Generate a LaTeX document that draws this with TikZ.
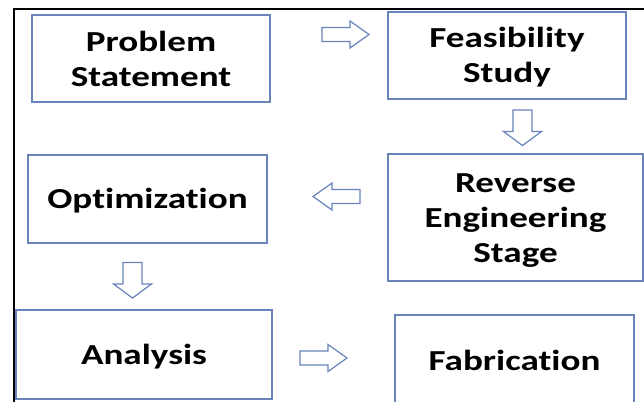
\documentclass[tikz,border=0pt]{standalone}
\usepackage{fontspec}
\setmainfont{Carlito}[FakeStretch=1.28, Ligatures=NoCommon]
\definecolor{boxblue}{RGB}{104,132,186}
% taller first line, to set a label a little lower in its box
\newcommand\lowertop{\rule{0pt}{24pt}}
\begin{document}
\begin{tikzpicture}[x=1pt,y=-1pt,
  stepbox/.style={draw=boxblue, line width=1.3pt, fill=white, align=center,
    font=\fontsize{29}{35}\selectfont\bfseries, text=black, inner sep=0pt},
  blockarrow/.style={draw=boxblue, line width=1.2pt, fill=white},
  pics/harrow/.style={code={\draw[blockarrow] (0,-7) -- (28,-7) -- (28,-13.5)
      -- (47,0) -- (28,13.5) -- (28,7) -- (0,7) -- cycle;}},
  pics/varrow/.style={code={\draw[blockarrow] (-9.5,0) -- (9.5,0) -- (9.5,21.5)
      -- (19,21.5) -- (0,35.5) -- (-19,21.5) -- (-9.5,21.5) -- cycle;}}]
\clip (0,0) rectangle (644,401);
\fill[white] (0,0) rectangle (644,401);
% outer frame, left and top edges
\draw[line width=2pt] (14,403) -- (14,9) -- (646,9);

% process stages
\node[stepbox, minimum width=238pt, minimum height=87pt] (problem) at (151,58.5) {Problem\\Statement};
\node[stepbox, minimum width=238pt, minimum height=87pt] (feasible) at (507,55.5) {\lowertop Feasibility\\Study};
\node[stepbox, minimum width=255pt, minimum height=127pt] (reverse) at (515.5,217.5) {\lowertop Reverse\\Engineering\\Stage};
\node[stepbox, minimum width=239pt, minimum height=88pt] (optim) at (147.5,199) {\lowertop Optimization};
\node[stepbox, minimum width=256pt, minimum height=89pt] (analysis) at (144,354.5) {\lowertop Analysis};
\node[stepbox, minimum width=239pt, minimum height=90pt] (fabric) at (514.5,360) {Fabrication};

% block arrows between stages
\pic (a1) at (322,34.5) {harrow};
\pic (a2) at (522.5,110) {varrow};
\pic[rotate=180] (a3) at (360,196.5) {harrow};
\pic (a4) at (132.5,262.5) {varrow};
\pic (a5) at (300,358) {harrow};
\end{tikzpicture}
\end{document}
